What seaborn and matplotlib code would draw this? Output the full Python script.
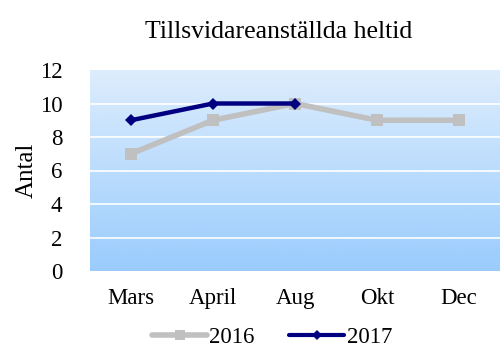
import numpy as np
import pandas as pd
import matplotlib
matplotlib.use("Agg")
import matplotlib.pyplot as plt
import seaborn as sns
from matplotlib.colors import LinearSegmentedColormap
from matplotlib.lines import Line2D

months = ["Mars", "April", "Aug", "Okt", "Dec"]
values_2016 = [7, 9, 10, 9, 9]
values_2017 = [9, 10, 10, np.nan, np.nan]
series = ["2016", "2017"]
yticks = [0, 2, 4, 6, 8, 10, 12]

df = pd.DataFrame({
    "Månad": months * 2,
    "Antal": values_2016 + values_2017,
    "År": [series[0]] * len(months) + [series[1]] * len(months),
})

sns.set_theme(style="white")
plt.rcParams["font.family"] = ["Liberation Serif", "DejaVu Serif"]
plt.rcParams["text.color"] = "black"
plt.rcParams["axes.labelcolor"] = "black"

fig = plt.figure(figsize=(5.01, 3.49), dpi=100)
ax = fig.add_axes([90 / 501, 78 / 349, 410 / 501, 201 / 349])

# vertical blue gradient behind the plot
grad = np.linspace(0, 1, 256).reshape(-1, 1)
cmap = LinearSegmentedColormap.from_list("bg", ["#9ACCFD", "#DDEDFD"])
ax.imshow(grad, aspect="auto", cmap=cmap, origin="lower",
          extent=(-0.5, len(months) - 0.5, 0, 12), zorder=0)

for y in yticks[1:-1]:
    ax.axhline(y, color="white", lw=1.2, zorder=1)

palette = {"2016": "#C0C0C0", "2017": "#000080"}
sns.lineplot(data=df, x="Månad", y="Antal", hue="År", style="År",
             markers={"2016": "s", "2017": "D"}, dashes=False,
             palette=palette, sort=False, ax=ax, legend=False, zorder=3)
data_lines = [l for l in ax.get_lines() if l.get_marker() in ("s", "D")]
for ln in data_lines:
    if ln.get_marker() == "s":
        ln.set_linewidth(4)
        ln.set_markersize(8)
    else:
        ln.set_linewidth(3.2)
        ln.set_markersize(6)
    ln.set_markeredgewidth(0)

ax.set_xlim(-0.5, len(months) - 0.5)
ax.set_ylim(0, 12)
ax.set_yticks(yticks)
ax.set_xticks(range(len(months)))
ax.set_xticklabels(months)
ax.tick_params(axis="both", labelsize=16.5, length=0, colors="black")
ax.tick_params(axis="x", pad=12)
ax.tick_params(axis="y", pad=20)
for s in ax.spines.values():
    s.set_visible(False)
ax.set_xlabel("")
ax.set_ylabel("Antal", fontsize=18, labelpad=1, color="black")
ax.set_title("Tillsvidareanställda heltid", fontsize=18.5, pad=23,
             color="black", x=0.461)

handles = [
    Line2D([], [], color="#C0C0C0", lw=4, marker="s", ms=7, mew=0),
    Line2D([], [], color="#000080", lw=3, marker="D", ms=5, mew=0),
]
fig.legend(handles, series, loc="center", bbox_to_anchor=(0.543, 0.032),
           ncol=2, frameon=False, fontsize=16.5, handlelength=2.4,
           handletextpad=0.1, columnspacing=1.5)

fig.savefig("out.png", dpi=100)
